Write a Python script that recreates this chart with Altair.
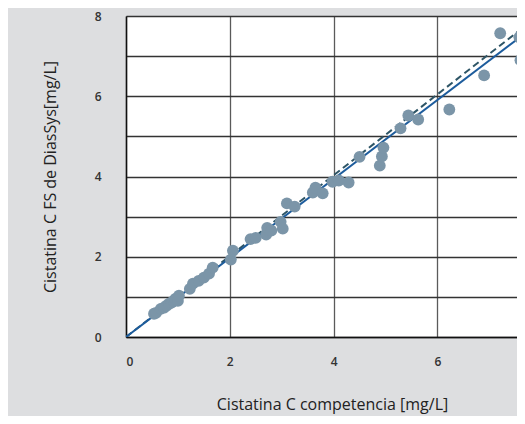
import altair as alt
import pandas as pd

x_comp = [0.54, 0.58, 0.67, 0.73, 0.78, 0.83, 0.88, 0.92, 0.95, 1.0, 1.02,
          1.23, 1.29, 1.40, 1.50, 1.60, 1.67,
          2.02, 2.06, 2.40, 2.50,
          2.70, 2.72, 2.80, 2.98, 3.02,
          3.10, 3.25,
          3.60, 3.65, 3.79,
          3.98, 4.10, 4.29,
          4.50, 4.89, 4.93, 4.96,
          5.29, 5.44, 5.63,
          6.23, 6.90, 7.21, 7.58, 7.60]
y_dias = [0.58, 0.60, 0.70, 0.73, 0.78, 0.83, 0.86, 0.90, 0.95, 0.90, 1.03,
          1.20, 1.33, 1.40, 1.48, 1.58, 1.73,
          1.93, 2.15, 2.44, 2.47,
          2.55, 2.72, 2.65, 2.87, 2.70,
          3.33, 3.25,
          3.60, 3.72, 3.58,
          3.87, 3.90, 3.85,
          4.49, 4.27, 4.50, 4.72,
          5.20, 5.52, 5.42,
          5.67, 6.52, 7.57, 7.47, 6.90]

# Lines: regression (solid) and identity-like (dashed)
line_x = [0.0, 7.72]
reg_y = [0.0, 7.60]
ident_y = [0.0, 7.78]

PLOT_W = 391
X_MAX = PLOT_W / 51.9

pts = pd.DataFrame({"x": x_comp, "y": y_dias})
reg = pd.DataFrame({"x": line_x, "y": reg_y})
ident = pd.DataFrame({"x": line_x, "y": ident_y})

xscale = alt.Scale(domain=[0, X_MAX], nice=False, zero=True)
yscale = alt.Scale(domain=[0, 8], nice=False)

font = "Open Sans"

xaxis = alt.Axis(
    title="Cistatina C competencia [mg/L]",
    values=[0, 2, 4, 6],
    grid=True, gridColor="#5a5a5a", gridWidth=1.3,
    ticks=False, domain=True, domainColor="#111111", domainWidth=1.5,
    labelFont=font, labelFontSize=12, labelFontWeight=600, labelColor="#333333",
    labelPadding=19,
    titleFont=font, titleFontSize=16, titleFontWeight="normal", titleColor="#222222",
    titlePadding=29, titleX=206,
)
yaxis = alt.Axis(
    title="Cistatina C FS de DiasSys[mg/L]",
    values=[0, 1, 2, 3, 4, 5, 6, 7, 8],
    labelExpr="datum.value % 2 == 0 ? datum.label : ''",
    grid=True, gridColor="#333333", gridWidth=1.3,
    ticks=False, domain=True, domainColor="#111111", domainWidth=1.5,
    labelFont=font, labelFontSize=12, labelFontWeight=600, labelColor="#333333",
    labelPadding=25,
    titleFont=font, titleFontSize=16, titleFontWeight="normal", titleColor="#222222",
    titlePadding=36,
)

base_x = alt.X("x:Q", scale=xscale, axis=xaxis)
base_y = alt.Y("y:Q", scale=yscale, axis=yaxis)

ident_line = alt.Chart(ident).mark_line(
    color="#2e5566", strokeWidth=2, strokeDash=[7, 4], clip=True
).encode(x=base_x, y=base_y)

reg_line = alt.Chart(reg).mark_line(
    color="#1d5c9c", strokeWidth=2, clip=True
).encode(x=base_x, y=base_y)

points = alt.Chart(pts).mark_circle(
    color="#7b95a8", size=140, opacity=1, clip=True
).encode(x=base_x, y=base_y)

chart = alt.layer(ident_line, reg_line, points).properties(
    width=PLOT_W,
    height=321,
    background="#dddee0",
    padding={"left": 118, "top": 8, "right": 0, "bottom": 79},
    autosize=alt.AutoSizeParams(type="none"),
).configure_view(
    fill="white", stroke=None
)

chart.save("out.html", embed_options={"renderer": "svg", "actions": False})
